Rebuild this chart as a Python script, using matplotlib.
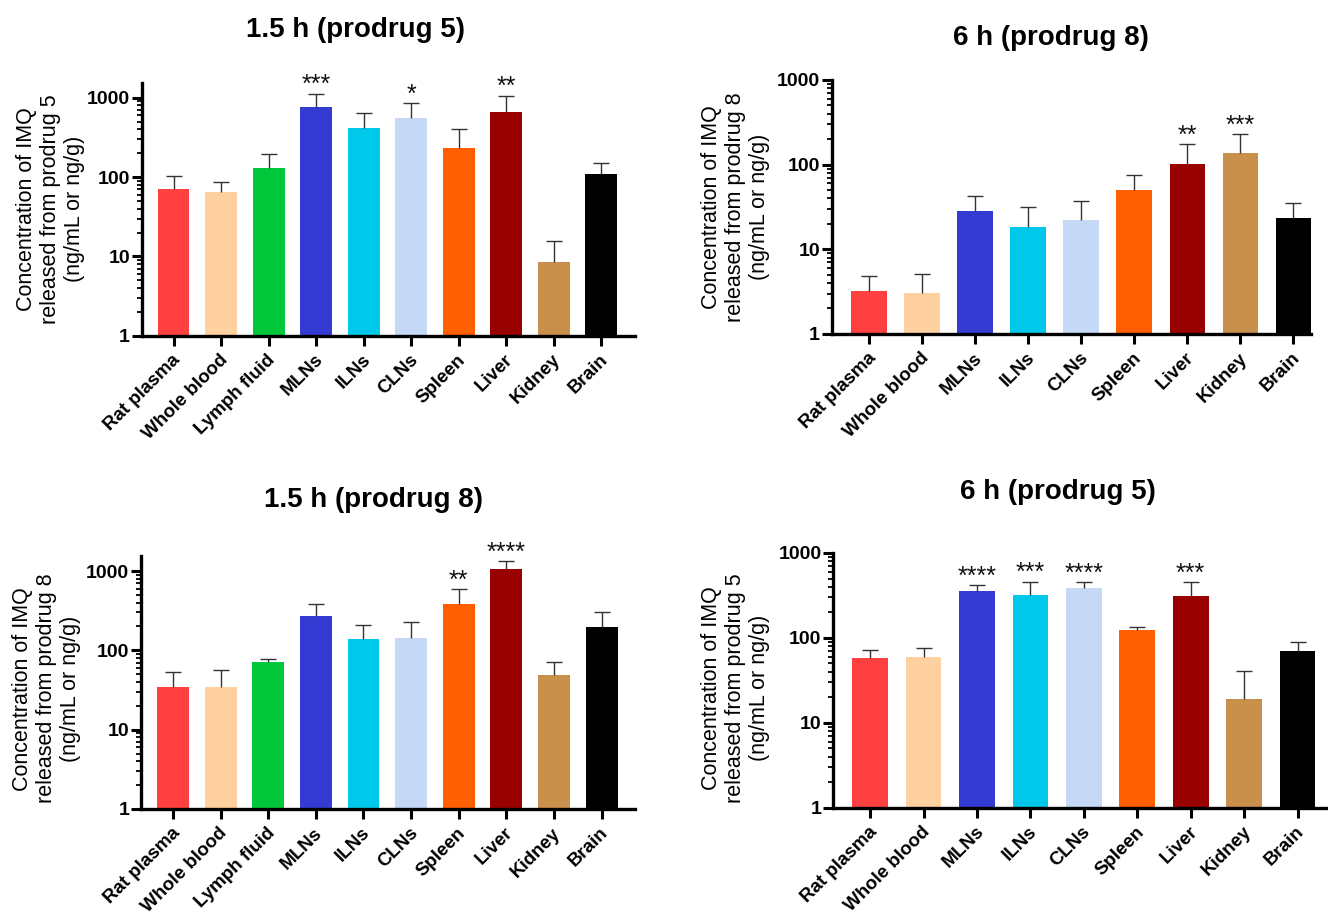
import numpy as np
import matplotlib
matplotlib.use("Agg")
import matplotlib.pyplot as plt
import matplotlib.transforms as mtransforms
from matplotlib.ticker import LogLocator, NullFormatter, FixedLocator

plt.rcParams['font.family'] = ['Liberation Sans', 'DejaVu Sans']

# tissues (1.5 h panels include lymph fluid, 6 h panels do not)
tissues_15h = ['Rat plasma', 'Whole blood', 'Lymph fluid', 'MLNs', 'ILNs', 'CLNs',
               'Spleen', 'Liver', 'Kidney', 'Brain']
tissues_6h = ['Rat plasma', 'Whole blood', 'MLNs', 'ILNs', 'CLNs',
              'Spleen', 'Liver', 'Kidney', 'Brain']

# 1.5 h (prodrug 5)
mean_15h_p5 = [70, 64, 131, 775, 420, 550, 233, 656, 8.4, 108]
sd_15h_p5 = [33, 23, 64, 355, 215, 315, 171, 407, 7.1, 44]
stars_15h_p5 = ['', '', '', '***', '', '*', '', '**', '', '']

# 6 h (prodrug 8)
mean_6h_p8 = [3.22, 3.07, 28.3, 18.5, 22.3, 50.4, 102, 138, 23.4]
sd_6h_p8 = [1.62, 2.08, 13.9, 13.0, 15.1, 25.4, 71, 91, 11.7]
stars_6h_p8 = ['', '', '', '', '', '', '**', '***', '']

# 1.5 h (prodrug 8)
mean_15h_p8 = [34.5, 34.5, 70.6, 271, 138, 144.5, 387, 1059, 48.4, 197]
sd_15h_p8 = [18.3, 21.5, 7.2, 113, 73, 83.5, 200, 278, 22.2, 110]
stars_15h_p8 = ['', '', '', '', '', '', '**', '****', '', '']

# 6 h (prodrug 5)
mean_6h_p5 = [57.7, 59.3, 357, 318, 388, 122.7, 309, 18.9, 70.6]
sd_6h_p5 = [14.9, 16.4, 60, 143, 68, 11.3, 148, 21.6, 18.6]
stars_6h_p5 = ['', '', '****', '***', '****', '', '***', '', '']

colours = {
    'Rat plasma': '#FF4040',
    'Whole blood': '#FFD0A0',
    'Lymph fluid': '#00C83A',
    'MLNs': '#343BD2',
    'ILNs': '#00C8EA',
    'CLNs': '#C5D8F5',
    'Spleen': '#FF5F00',
    'Liver': '#990000',
    'Kidney': '#C8904A',
    'Brain': '#000000',
}

fig = plt.figure(figsize=(13.28, 9.17), dpi=100)
shift = mtransforms.ScaledTranslation(3 / 72, 0, fig.dpi_scale_trans)


def panel(rect, labels, means, sds, stars, ytop, xlim, title, title_xy, ylab, ylab_xy):
    ax = fig.add_axes(rect)
    x = np.arange(len(labels))
    ax.bar(x, means, width=0.67, color=[colours[t] for t in labels], zorder=2)
    _, caps, _ = ax.errorbar(x, means, yerr=[np.zeros(len(means)), sds], fmt='none',
                             ecolor='#333333', elinewidth=1.0, capsize=6, capthick=1.0,
                             zorder=3)
    caps[0].set_visible(False)  # only the upper cap
    for xi, m, s, st in zip(x, means, sds, stars):
        if st:
            ax.annotate(st, (xi, m + s), xytext=(0, 1), textcoords='offset points',
                        ha='center', va='baseline', fontsize=18, color='#111111')
    ax.set_yscale('log')
    ax.set_ylim(1, ytop)
    ax.set_xlim(*xlim)
    ax.yaxis.set_major_locator(FixedLocator([1, 10, 100, 1000]))
    ax.set_yticklabels(['1', '10', '100', '1000'])
    ax.yaxis.set_minor_locator(LogLocator(base=10, subs=np.arange(2, 10)))
    ax.yaxis.set_minor_formatter(NullFormatter())
    for s in ['top', 'right']:
        ax.spines[s].set_visible(False)
    for s in ['left', 'bottom']:
        ax.spines[s].set_linewidth(2.4)
    ax.tick_params(axis='y', which='major', length=7.5, width=2.2, pad=1, labelsize=14)
    ax.tick_params(axis='y', which='minor', length=3.8, width=1.3)
    ax.tick_params(axis='x', length=7.5, width=2.2, pad=8)
    for lab in ax.get_yticklabels():
        lab.set_fontweight('bold')
    ax.set_xticks(x)
    ax.set_xticklabels(labels, rotation=45, ha='right', va='center',
                       rotation_mode='anchor', fontsize=13.5, fontweight='bold')
    for lab in ax.get_xticklabels():
        lab.set_transform(lab.get_transform() + shift)
    fig.text(title_xy[0], title_xy[1], title, ha='center', va='center',
             fontsize=20, fontweight='bold')
    fig.text(ylab_xy[0], ylab_xy[1], ylab, rotation=90, ha='center', va='center',
             multialignment='center', fontsize=15.5, linespacing=1.2)
    return ax


ylab5 = 'Concentration of IMQ\nreleased from prodrug 5\n(ng/mL or ng/g)'
ylab8 = 'Concentration of IMQ\nreleased from prodrug 8\n(ng/mL or ng/g)'

panel([0.1067, 0.6339, 0.3715, 0.2759], tissues_15h, mean_15h_p5, sd_15h_p5, stars_15h_p5,
      1549, (-0.67, 9.71), '1.5 h (prodrug 5)', (0.268, 0.967), ylab5, (0.038, 0.772))
panel([0.6263, 0.6358, 0.3609, 0.2770], tissues_6h, mean_6h_p8, sd_6h_p8, stars_6h_p8,
      1000, (-0.70, 8.33), '6 h (prodrug 8)', (0.791, 0.959), ylab8, (0.554, 0.774))
panel([0.1062, 0.1178, 0.3723, 0.2762], tissues_15h, mean_15h_p8, sd_15h_p8, stars_15h_p8,
      1560, (-0.67, 9.71), '1.5 h (prodrug 8)', (0.281, 0.455), ylab8, (0.035, 0.249))
panel([0.6275, 0.1192, 0.3725, 0.2778], tissues_6h, mean_6h_p5, sd_6h_p5, stars_6h_p5,
      1000, (-0.69, 8.57), '6 h (prodrug 5)', (0.797, 0.464), ylab5, (0.554, 0.250))

fig.savefig('out.png', dpi=100)
